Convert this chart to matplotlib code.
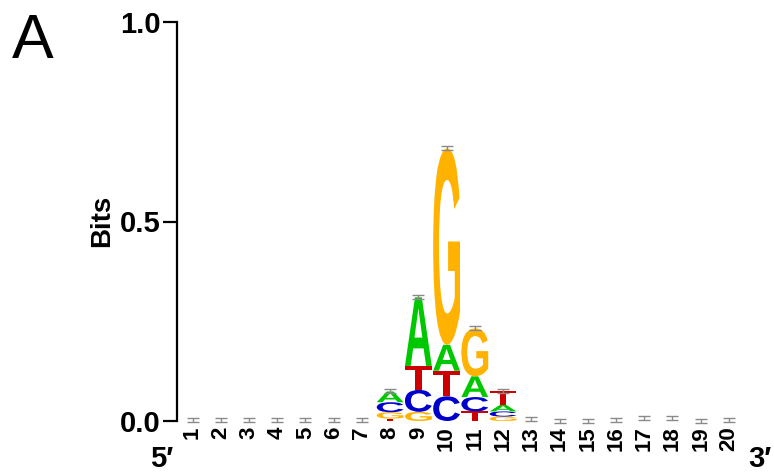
import matplotlib
matplotlib.use('Agg')
import matplotlib.pyplot as plt
from matplotlib.textpath import TextPath
from matplotlib.patches import PathPatch
from matplotlib.font_manager import FontProperties
from matplotlib.transforms import Affine2D

plt.rcParams['font.family'] = ['Liberation Sans', 'DejaVu Sans']

positions = list(range(1, 21))
bits_A = [0, 0, 0, 0, 0, 0, 0, 0.027, 0.172, 0.065, 0.052, 0.016, 0, 0, 0, 0, 0, 0, 0, 0]
bits_C = [0, 0, 0, 0, 0, 0, 0, 0.025, 0.055, 0.062, 0.036, 0.013, 0, 0, 0, 0, 0, 0, 0, 0]
bits_G = [0, 0, 0, 0, 0, 0, 0, 0.016, 0.023, 0.492, 0.120, 0.011, 0, 0, 0, 0, 0, 0, 0, 0]
bits_T = [0, 0, 0, 0, 0, 0, 0, 0.006, 0.060, 0.064, 0.024, 0.035, 0, 0, 0, 0, 0, 0, 0, 0]
# total information per column (error bar centres)
total_bits = [0.002, 0.002, 0.002, 0.002, 0.002, 0.002, 0.003, 0.076, 0.310, 0.683,
              0.232, 0.075, 0.006, 0.001, 0.001, 0.002, 0.007, 0.007, 0.001, 0.002]
bits_err = 0.005

colors = {'A': '#00C800', 'C': '#0000CC', 'G': '#FFB300', 'T': '#CC0000'}
letter_w = 0.95
fp = FontProperties(family='Liberation Sans', weight='bold')

fig = plt.figure(figsize=(7.74, 4.75), dpi=100)
ax = fig.add_axes([177/774, 54/475, (743 - 177)/774, 399/475])


def draw_letter(ch, x, y0, h):
    tp = TextPath((0, 0), ch, size=1, prop=fp)
    bb = tp.get_extents()
    t = (Affine2D().translate(-bb.x0, -bb.y0)
         .scale(letter_w / bb.width, h / bb.height)
         .translate(x - letter_w / 2, y0))
    ax.add_patch(PathPatch(t.transform_path(tp), facecolor=colors[ch],
                           edgecolor='none', lw=0, zorder=2))


for i, x in enumerate(positions):
    col = [(bits_A[i], 'A'), (bits_C[i], 'C'), (bits_G[i], 'G'), (bits_T[i], 'T')]
    col = sorted([c for c in col if c[0] > 0])  # smallest at the bottom
    y = 0
    for h, ch in col:
        draw_letter(ch, x, y, h)
        y += h

eb = ax.errorbar(positions, total_bits, yerr=bits_err, fmt='none', ecolor='#8a8a8a',
                 elinewidth=1, capsize=4.5, capthick=1, zorder=3)
for art in eb.get_children():
    art.set_clip_on(False)

ax.set_xlim(0.45, 20.5)
ax.set_ylim(0, 1.0)
for s in ['top', 'right', 'bottom']:
    ax.spines[s].set_visible(False)
ax.spines['left'].set_linewidth(1.6)
ax.spines['left'].set_bounds(0, 1)

ax.set_xticks(positions)
ax.set_xticklabels([str(p) for p in positions], rotation=90, fontsize=16, fontweight='bold')
ax.tick_params(axis='x', length=0, pad=4)
ax.set_yticks([0, 0.5, 1.0])
ax.set_yticklabels(['0.0', '0.5', '1.0'], fontsize=21, fontweight='bold')
ax.tick_params(axis='y', length=10, width=1.6, pad=2)

fig.text(102/774, 1 - 221/475, 'Bits', rotation=90, ha='center', va='center',
         fontsize=20, fontweight='bold')
fig.text(162/774, 1 - 467/475, '5\u2032', ha='center', va='baseline',
         fontsize=21, fontweight='bold')
fig.text(760/774, 1 - 467/475, '3\u2032', ha='center', va='baseline',
         fontsize=21, fontweight='bold')
fig.text(12/774, 1 - 58/475, 'A', ha='left', va='baseline', fontsize=45)

fig.savefig('out.png', dpi=100)
